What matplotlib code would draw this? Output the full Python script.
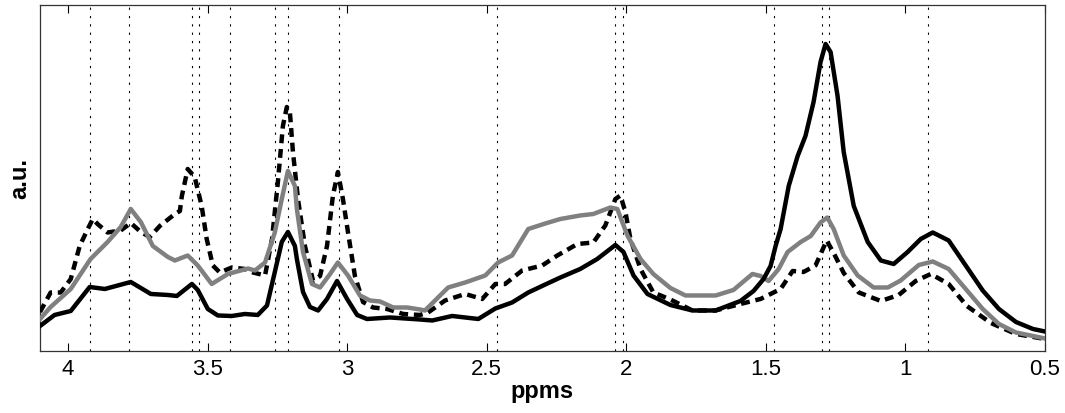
import numpy as np
import matplotlib.pyplot as plt

plt.rcParams['font.family'] = ['Liberation Sans', 'DejaVu Sans']

# reference lines (ppm)
ref_ppm = [3.92, 3.78, 3.555, 3.53, 3.42, 3.26, 3.213, 3.03, 2.463, 2.042, 2.01, 1.47, 1.298, 1.274, 0.918]

# black solid spectrum
ppm_a = [4.10, 4.048, 3.990, 3.922, 3.868, 3.775, 3.703, 3.642, 3.610, 3.556, 3.535, 3.499, 3.463, 3.413,
         3.366, 3.320, 3.287, 3.259, 3.234, 3.212, 3.187, 3.180, 3.158, 3.133, 3.104, 3.072, 3.036, 3.000,
         2.964, 2.929, 2.846, 2.739, 2.695, 2.624, 2.530, 2.469, 2.409, 2.351, 2.290, 2.236, 2.165, 2.104,
         2.039, 2.010, 1.974, 1.924, 1.842, 1.763, 1.680, 1.591, 1.544, 1.508, 1.483, 1.465, 1.447, 1.418,
         1.386, 1.358, 1.329, 1.304, 1.286, 1.268, 1.243, 1.221, 1.185, 1.135, 1.088, 1.042, 0.992, 0.945,
         0.902, 0.845, 0.784, 0.723, 0.665, 0.604, 0.543, 0.50]
au_a = [0.25, 0.36, 0.40, 0.64, 0.62, 0.69, 0.57, 0.56, 0.55, 0.67, 0.61, 0.42, 0.355, 0.35,
        0.37, 0.36, 0.455, 0.79, 1.09, 1.19, 1.05, 0.92, 0.59, 0.44, 0.405, 0.52, 0.70, 0.52,
        0.36, 0.32, 0.335, 0.315, 0.305, 0.35, 0.32, 0.425, 0.485, 0.585, 0.665, 0.735, 0.82, 0.92,
        1.06, 0.99, 0.755, 0.57, 0.46, 0.405, 0.405, 0.50, 0.60, 0.72, 0.85, 1.05, 1.22, 1.65,
        1.95, 2.15, 2.49, 2.89, 3.07, 2.99, 2.55, 1.99, 1.45, 1.09, 0.905, 0.87, 0.99, 1.12,
        1.185, 1.105, 0.855, 0.605, 0.42, 0.29, 0.22, 0.195]

# grey spectrum
ppm_b = [4.10, 4.062, 3.990, 3.919, 3.858, 3.811, 3.775, 3.739, 3.696, 3.642, 3.617, 3.571, 3.535, 3.485,
         3.427, 3.355, 3.330, 3.294, 3.259, 3.234, 3.212, 3.187, 3.180, 3.158, 3.126, 3.097, 3.061, 3.033,
         2.997, 2.954, 2.918, 2.882, 2.835, 2.785, 2.739, 2.721, 2.638, 2.577, 2.505, 2.459, 2.409, 2.351,
         2.290, 2.236, 2.165, 2.118, 2.057, 2.032, 1.996, 1.949, 1.903, 1.842, 1.788, 1.680, 1.616, 1.548,
         1.519, 1.490, 1.454, 1.422, 1.375, 1.339, 1.304, 1.280, 1.257, 1.221, 1.171, 1.114, 1.063, 1.017,
         0.952, 0.902, 0.845, 0.784, 0.723, 0.665, 0.604, 0.50]
au_b = [0.32, 0.44, 0.62, 0.92, 1.09, 1.24, 1.42, 1.29, 1.05, 0.94, 0.905, 0.955, 0.855, 0.67,
        0.77, 0.825, 0.805, 0.885, 1.185, 1.52, 1.80, 1.65, 1.42, 0.99, 0.67, 0.635, 0.77, 0.885,
        0.755, 0.555, 0.505, 0.495, 0.435, 0.435, 0.415, 0.405, 0.635, 0.685, 0.755, 0.885, 0.955, 1.22,
        1.275, 1.32, 1.355, 1.37, 1.435, 1.42, 1.155, 0.92, 0.77, 0.63, 0.555, 0.555, 0.61, 0.77,
        0.75, 0.70, 0.82, 0.99, 1.09, 1.15, 1.285, 1.335, 1.22, 0.955, 0.755, 0.635, 0.635, 0.705,
        0.86, 0.895, 0.82, 0.62, 0.42, 0.27, 0.185, 0.125]

# black dashed spectrum
ppm_c = [4.10, 4.062, 4.026, 3.990, 3.958, 3.929, 3.911, 3.894, 3.858, 3.811, 3.775, 3.739, 3.707, 3.671,
         3.617, 3.599, 3.592, 3.571, 3.546, 3.521, 3.503, 3.481, 3.456, 3.413, 3.366, 3.337, 3.294, 3.269,
         3.248, 3.230, 3.216, 3.205, 3.194, 3.176, 3.151, 3.122, 3.097, 3.072, 3.051, 3.033, 3.015, 2.997,
         2.972, 2.943, 2.907, 2.857, 2.799, 2.739, 2.710, 2.649, 2.577, 2.516, 2.469, 2.434, 2.373, 2.301,
         2.247, 2.175, 2.118, 2.075, 2.039, 2.021, 2.003, 1.985, 1.949, 1.903, 1.842, 1.763, 1.680, 1.591,
         1.519, 1.447, 1.404, 1.365, 1.322, 1.282, 1.257, 1.221, 1.167, 1.088, 1.024, 0.963, 0.909, 0.845,
         0.780, 0.694, 0.604, 0.50]
au_c = [0.39, 0.585, 0.585, 0.72, 1.05, 1.22, 1.32, 1.27, 1.185, 1.205, 1.28, 1.19, 1.14, 1.25,
        1.37, 1.40, 1.55, 1.82, 1.74, 1.45, 1.12, 0.855, 0.785, 0.835, 0.82, 0.785, 0.755, 1.12,
        1.69, 2.25, 2.44, 2.39, 1.99, 1.52, 1.05, 0.70, 0.75, 1.05, 1.55, 1.79, 1.52, 1.19,
        0.75, 0.49, 0.435, 0.42, 0.37, 0.36, 0.385, 0.505, 0.57, 0.52, 0.67, 0.67, 0.805, 0.855,
        0.955, 1.07, 1.085, 1.255, 1.52, 1.555, 1.39, 1.12, 0.82, 0.585, 0.515, 0.405, 0.405, 0.47,
        0.52, 0.62, 0.80, 0.79, 0.855, 1.105, 0.98, 0.78, 0.585, 0.50, 0.56, 0.70, 0.77, 0.67,
        0.45, 0.28, 0.17, 0.12]

fig = plt.figure(figsize=(10.65, 4.14), dpi=100)
ax = fig.add_axes([0.0376, 0.1498, 0.9436, 0.8357])

for p in ref_ppm:
    ax.axvline(p, color='black', linewidth=0.8, linestyle=(0, (2, 5.5)), zorder=1)

ax.plot(ppm_c, au_c, color='black', linewidth=3.2, linestyle=(0, (2.0, 1.3)),
        solid_joinstyle='round', dash_joinstyle='round', zorder=3)
ax.plot(ppm_b, au_b, color='#808080', linewidth=3.2, solid_joinstyle='round', zorder=4)
ax.plot(ppm_a, au_a, color='black', linewidth=3.2, solid_joinstyle='round', zorder=5)

ax.set_xlim(4.1, 0.5)
ax.set_ylim(0, 3.46)
ax.set_xticks([4, 3.5, 3, 2.5, 2, 1.5, 1, 0.5])
ax.set_xticklabels(['4', '3.5', '3', '2.5', '2', '1.5', '1', '0.5'])
ax.set_yticks([])
ax.tick_params(axis='x', direction='in', top=True, length=6, width=0.8, labelsize=16, pad=5)
for s in ax.spines.values():
    s.set_linewidth(0.9)
    s.set_color('#333333')

ax.set_xlabel('ppms', fontsize=17, fontweight='bold', labelpad=0)
ax.set_ylabel('a.u.', fontsize=17, fontweight='bold', labelpad=6)

plt.savefig('out.png', dpi=100)
